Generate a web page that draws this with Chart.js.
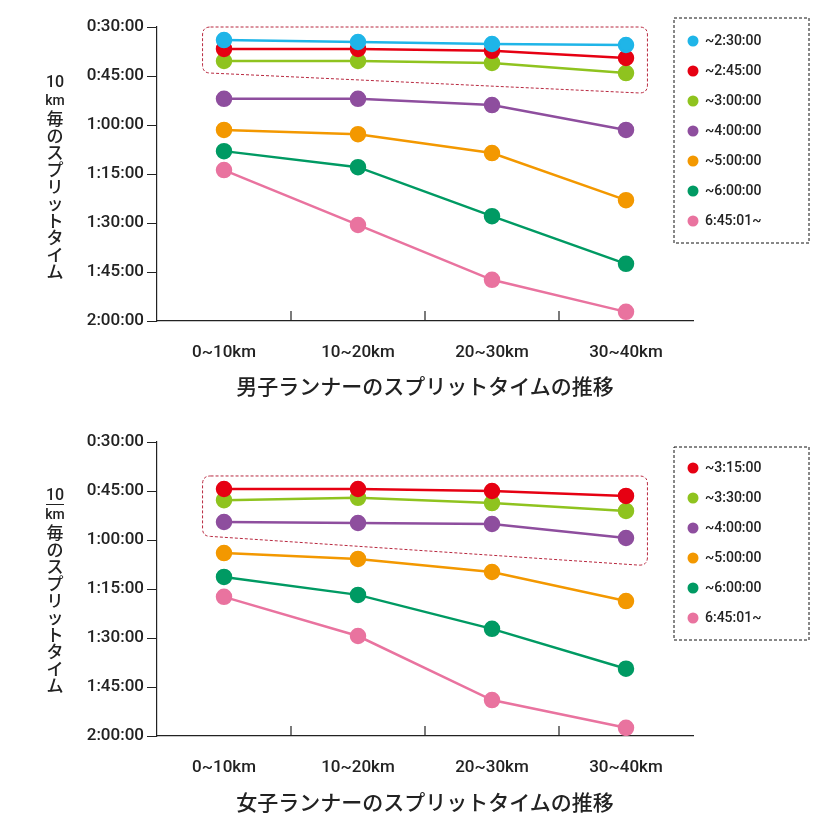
<!DOCTYPE html>
<html><head><meta charset="utf-8">
<script src="https://cdn.jsdelivr.net/npm/chart.js@4"></script>
<style>
body{margin:0;background:#fff;width:833px;height:819px;position:relative;overflow:hidden;font-family:"Noto Sans CJK JP",Roboto,sans-serif;color:#222}
.wrap{position:absolute;left:0;width:833px;height:410px}
.ylab{position:absolute;left:42px;width:26px;display:flex;flex-direction:column;align-items:center;font-size:17px;font-weight:500;line-height:17px}
.ylab span{display:block}
.title{position:absolute;left:0;width:850px;text-align:center;font-size:21px;font-weight:500}
</style></head><body>
<div class="wrap" style="top:0"><canvas id="c1" width="833" height="410"></canvas></div>
<div class="wrap" style="top:415px"><canvas id="c2" width="833" height="410"></canvas></div>
<div class="ylab" style="top:72px"><span style="font-family:Roboto;font-size:16px;line-height:19px">10</span><span style="font-family:Roboto;font-size:14px;line-height:18px">km</span><span>毎</span><span>の</span><span>ス</span><span>プ</span><span>リ</span><span>ッ</span><span>ト</span><span>タ</span><span>イ</span><span>ム</span></div>
<div class="ylab" style="top:486px"><span style="font-family:Roboto;font-size:16px;line-height:18px;border-bottom:1.5px solid #222">10</span><span style="font-family:Roboto;font-size:14px;line-height:18px">km</span><span>毎</span><span>の</span><span>ス</span><span>プ</span><span>リ</span><span>ッ</span><span>ト</span><span>タ</span><span>イ</span><span>ム</span></div>
<div class="title" style="top:370px">男子ランナーのスプリットタイムの推移</div>
<div class="title" style="top:786px">女子ランナーのスプリットタイムの推移</div>
<script>
const categories=["0~10km","10~20km","20~30km","30~40km"];
const yTicks=[30,45,60,75,90,105,120];
const menLabels=["~2:30:00","~2:45:00","~3:00:00","~4:00:00","~5:00:00","~6:00:00","6:45:01~"];
const menColors=["#1fb5e8","#e60012","#8fc31f","#8e4e9e","#f39800","#009a63","#e9739f"];
const men230=[34.0,34.6,35.2,35.5];
const men245=[36.7,36.7,37.3,39.5];
const men300=[40.4,40.4,41.0,44.1];
const men400=[52.0,52.0,53.9,61.5];
const men500=[61.5,62.8,68.6,83.0];
const men600=[68.0,72.9,87.9,102.5];
const men645=[73.8,90.6,107.4,117.2];
const womenLabels=["~3:15:00","~3:30:00","~4:00:00","~5:00:00","~6:00:00","6:45:01~"];
const womenColors=["#e60012","#8fc31f","#8e4e9e","#f39800","#009a63","#e9739f"];
const women315=[44.4,44.4,45.0,46.5];
const women330=[47.8,47.1,48.7,51.1];
const women400=[54.5,54.8,55.1,59.4];
const women500=[64.0,65.8,69.8,78.7];
const women600=[71.3,76.8,87.2,99.4];
const women645=[77.4,89.4,109.0,117.5];

function fmt(v){const h=Math.floor(v/60),m=v%60;return h+":"+String(m).padStart(2,"0")+":00";}
const deco={id:"deco",afterDraw(ch,a,o){
  const c=ch.ctx,x=ch.scales.x,y=ch.scales.y;
  c.save();
  c.strokeStyle="#222";c.lineWidth=1.2;
  for(let i=1;i<4;i++){const px=x.getPixelForValue(i-0.5);c.beginPath();c.moveTo(px,y.bottom);c.lineTo(px,y.bottom-10);c.stroke();}
  const b=o.box;c.strokeStyle="#b8283f";c.lineWidth=1;c.setLineDash([3,2]);
  const L=x.getPixelForValue(b.x0),R=x.getPixelForValue(b.x1),T=y.getPixelForValue(b.top),BL=y.getPixelForValue(b.bl),BR=y.getPixelForValue(b.br),r=8;
  c.beginPath();c.moveTo(L+r,T);c.lineTo(R-r,T);c.quadraticCurveTo(R,T,R,T+r);c.lineTo(R,BR-r);c.quadraticCurveTo(R,BR,R-r,BR);
  c.lineTo(L+r,BL);c.quadraticCurveTo(L,BL,L,BL-r);c.lineTo(L,T+r);c.quadraticCurveTo(L,T,L+r,T);c.stroke();
  const g=o.leg;c.strokeStyle="#111";c.setLineDash([3,2]);c.strokeRect(g.x,g.y,135,g.h);c.setLineDash([]);
  c.font="500 14px Roboto";c.textBaseline="middle";
  ch.data.datasets.forEach((d,i)=>{const yy=g.y+g.first+i*30;c.fillStyle=d.borderColor;c.beginPath();c.arc(g.x+19,yy,5.5,0,7);c.fill();c.fillStyle="#222";c.fillText(d.label,g.x+31,yy);});
  c.restore();
}};
function make(id,labels,colors,series,box,leg){
  new Chart(document.getElementById(id),{type:"line",
    data:{labels:categories,datasets:series.map((s,i)=>({label:labels[i],data:s,borderColor:colors[i],backgroundColor:colors[i],borderWidth:2.5,pointRadius:7,pointHoverRadius:7}))},
    options:{responsive:false,animation:false,events:[],
      layout:{padding:{left:77,right:140,top:27,bottom:39}},
      plugins:{legend:{display:false},tooltip:{enabled:false},deco:{box,leg}},
      scales:{
        x:{offset:true,grid:{display:false},border:{color:"#222",width:1.2},afterFit:s=>{s.height=50},
           ticks:{color:"#222",font:{size:17,family:"Roboto",weight:"500"},padding:14}},
        y:{reverse:true,min:30,max:120,afterFit:s=>{s.width=80},afterBuildTicks:s=>{s.ticks=yTicks.map(v=>({value:v}))},
           grid:{drawOnChartArea:false,tickLength:10,color:"#222"},border:{color:"#222",width:1.2},
           ticks:{color:"#222",font:{size:17,family:"Roboto",weight:"500"},padding:3,callback:v=>fmt(v)}}
      }},plugins:[deco]});
}
make("c1",menLabels,menColors,[men230,men245,men300,men400,men500,men600,men645],{x0:-0.16,x1:3.16,top:30,bl:44.1,br:50.2},{x:674,y:18,h:225,first:23});
make("c2",womenLabels,womenColors,[women315,women330,women400,women500,women600,women645],{x0:-0.16,x1:3.16,top:40.4,bl:58.9,br:67.7},{x:674,y:32,h:193,first:21});
</script></body></html>
